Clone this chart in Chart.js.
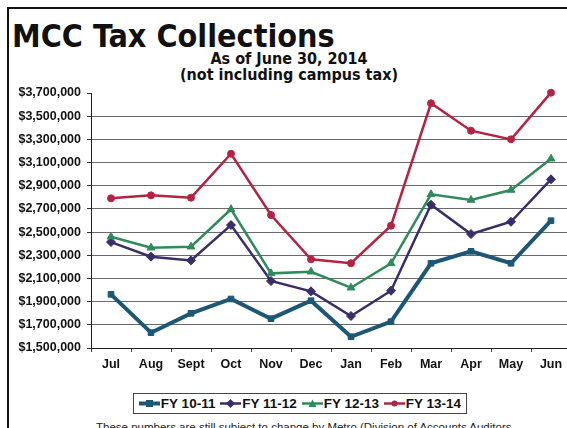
<!DOCTYPE html>
<html>
<head>
<meta charset="utf-8">
<script src="https://cdn.jsdelivr.net/npm/chart.js@4/dist/chart.umd.min.js"></script>
<style>
  html, body { margin: 0; padding: 0; background: #fff; overflow: hidden; }
  body { width: 567px; height: 428px; position: relative; }
  #frame { position: absolute; left: 7px; top: 7px; width: 600px; height: 450px;
           border-left: 2px solid #111; border-top: 2px solid #111; }
  #title { position: absolute; left: 12px; top: 17px; font: bold 32px "DejaVu Sans Condensed", "DejaVu Sans", sans-serif;
           color: #111; white-space: nowrap; }
  .sub { position: absolute; left: 0; width: 578px; text-align: center; font: bold 16px "DejaVu Sans Condensed", "DejaVu Sans", sans-serif; color: #111; white-space: nowrap; }
  #wrap { position: absolute; left: 0; top: 0; width: 580px; height: 380px; }
  #legend { position: absolute; left: 133px; top: 393px; width: 334px; height: 21px;
            border: 1px solid #444; display: flex; align-items: center; justify-content: space-evenly;
            font: bold 13.5px "Liberation Sans", Arial, sans-serif; color: #111; box-sizing: border-box; }
  #legend span { display: inline-flex; align-items: center; }
  #note { position: absolute; left: 96px; top: 421px; font: 11.5px "Liberation Sans", Arial, sans-serif; color: #222; white-space: nowrap; }
</style>
</head>
<body>
<div id="frame"></div>
<div id="title">MCC Tax Collections</div>
<div class="sub" style="top:49px;">As of June 30, 2014</div>
<div class="sub" style="top:65px;">(not including campus tax)</div>
<div id="wrap"><canvas id="chart" width="580" height="380"></canvas></div>
<div id="legend"></div>
<div id="note">These numbers are still subject to change by Metro (Division of Accounts Auditors</div>
<script>
const months = ["Jul", "Aug", "Sept", "Oct", "Nov", "Dec", "Jan", "Feb", "Mar", "Apr", "May", "Jun"];
const seriesNames = ["FY 10-11", "FY 11-12", "FY 12-13", "FY 13-14"];
const fy1011 = [1963000, 1632000, 1799000, 1923000, 1753000, 1908000, 1597000, 1727000, 2231000, 2334000, 2231000, 2598000];
const fy1112 = [2414000, 2288000, 2256000, 2561000, 2078000, 1989000, 1776000, 1994000, 2736000, 2483000, 2589000, 2955000];
const fy1213 = [2460000, 2365000, 2374000, 2697000, 2144000, 2158000, 2020000, 2231000, 2826000, 2777000, 2863000, 3133000];
const fy1314 = [2791000, 2817000, 2797000, 3176000, 2647000, 2265000, 2231000, 2555000, 3611000, 3375000, 3300000, 3703000];
const yMin = 1500000, yMax = 3700000, yStep = 200000;

const colors = ["#1c5876", "#3a2d6a", "#2f8a5c", "#b22442"];
const widths = [4, 2.5, 2.5, 2.5];
const shapes = ["rect", "rectRot", "triangle", "circle"];
const radii = [4, 4.5, 4.5, 3.5];
const values = [fy1011, fy1112, fy1213, fy1314];

const ctx = document.querySelector("#chart");

function money(v){
    return "$" + v.toLocaleString("en-US");
}

const datasets = values.map((d, i) => ({
    label: seriesNames[i],
    data: d,
    borderColor: colors[i],
    backgroundColor: colors[i],
    borderWidth: widths[i],
    pointStyle: shapes[i],
    pointRadius: radii[i],
    pointBorderWidth: 1,
    pointBorderColor: colors[i],
    tension: 0,
    clip: false,
    order: 4 - i
}));

const chart = new Chart(ctx, {
    type: "line",
    data: { labels: months, datasets: datasets },
    options: {
        responsive: false,
        animation: false,
        layout: { padding: { left: 0, right: 9, top: 93, bottom: 0 } },
        scales: {
            x: {
                offset: true,
                grid: { offset: true, drawOnChartArea: false, tickLength: 4, color: "#444" },
                border: { color: "#222", width: 1 },
                ticks: { color: "#111", font: { family: "Liberation Sans", weight: "bold", size: 12.5 }, padding: 5 },
                afterFit: s => { s.height = 32; }
            },
            y: {
                min: yMin, max: yMax,
                grid: {
                    color: c => (c.tick && c.tick.value === yMax) ? "rgba(0,0,0,0)" : "#6a6a6a",
                    tickColor: "#333",
                    tickLength: 4
                },
                border: { color: "#222", width: 1 },
                ticks: {
                    stepSize: yStep,
                    color: "#111",
                    padding: 6,
                    font: { family: "Liberation Sans", weight: "bold", size: 12.5 },
                    callback: v => money(v)
                },
                afterFit: s => { s.width = 91; }
            }
        },
        plugins: {
            legend: { display: false },
            tooltip: { enabled: false }
        }
    }
});

// html legend: short line with the series marker
const legend = document.querySelector("#legend");
values.forEach((d, i) => {
    const c = colors[i];
    let mark = "";
    if (shapes[i] === "rect") mark = `<rect x="7" y="2" width="7" height="7" fill="${c}"/>`;
    if (shapes[i] === "rectRot") mark = `<polygon points="10.5,1 15,5.5 10.5,10 6,5.5" fill="${c}"/>`;
    if (shapes[i] === "triangle") mark = `<polygon points="10.5,1.5 14.5,9 6.5,9" fill="${c}"/>`;
    if (shapes[i] === "circle") mark = `<circle cx="10.5" cy="5.5" r="3" fill="${c}"/>`;
    const svg = `<svg width="21" height="11" style="margin-right:1px"><line x1="0" y1="5.5" x2="21" y2="5.5" stroke="${c}" stroke-width="${widths[i] > 3 ? 4 : 2.5}"/>${mark}</svg>`;
    const item = document.createElement("span");
    item.innerHTML = svg + seriesNames[i];
    legend.appendChild(item);
});
</script>
</body>
</html>
